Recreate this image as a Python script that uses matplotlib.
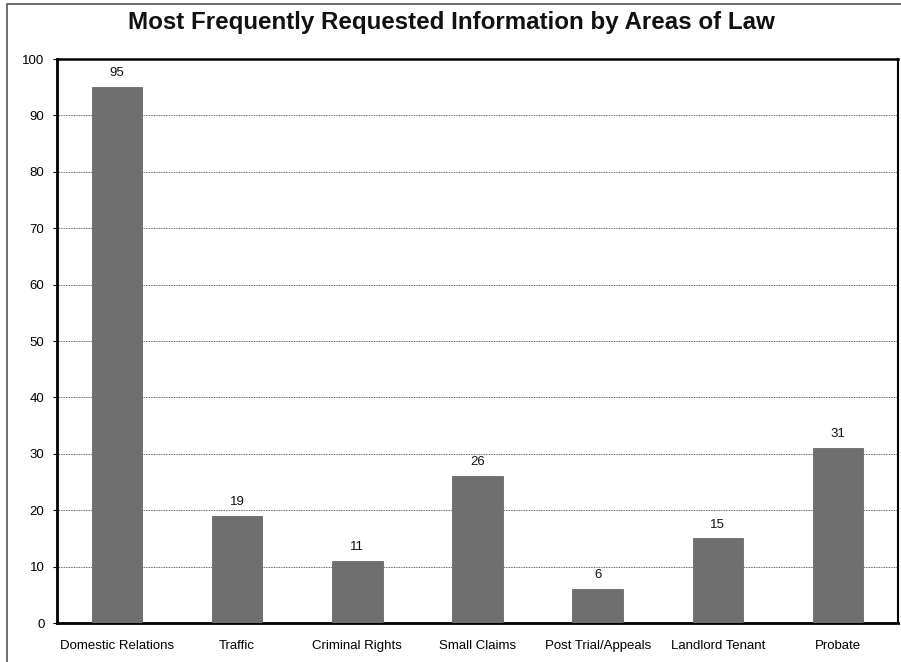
import matplotlib
matplotlib.use("Agg")
import matplotlib.pyplot as plt
from matplotlib.patches import Rectangle

categories = ["Domestic Relations", "Traffic", "Criminal Rights", "Small Claims",
              "Post Trial/Appeals", "Landlord Tenant", "Probate"]
values = [95, 19, 11, 26, 6, 15, 31]
y_ticks = [0, 10, 20, 30, 40, 50, 60, 70, 80, 90, 100]

plt.rcParams["font.family"] = ["Liberation Sans", "DejaVu Sans"]

fig = plt.figure(figsize=(9.01, 6.62), dpi=100)
fig.patch.set_facecolor("white")

# outer frame of the chart
fig.add_artist(Rectangle((7 / 901, -0.1), 1.2, (662 - 4) / 662 + 0.1,
                         transform=fig.transFigure, fill=False,
                         edgecolor="#555555", linewidth=1.2))

ax = fig.add_axes([57 / 901, 39 / 662, 841 / 901, 564 / 662])
x = range(len(categories))
bars = ax.bar(x, values, width=0.42, color="#6f6f6f", edgecolor="#5a5a5a",
              linewidth=0.5, zorder=3)
for xi, v in zip(x, values):
    ax.text(xi, v + 1.4, str(v), ha="center", va="bottom", fontsize=9.5, color="#111111")

ax.set_xlim(-0.5, len(categories) - 0.5)
ax.set_ylim(0, 100)
ax.set_yticks(y_ticks)
ax.set_xticks(list(x))
ax.set_xticklabels(categories, fontsize=9.5)
for lbl in ax.get_xticklabels():
    lbl.set_verticalalignment("baseline")
ax.tick_params(axis="y", labelsize=9.5, length=3, width=0.8, pad=6)
ax.tick_params(axis="x", length=0, pad=19)
ax.yaxis.grid(True, linestyle=(0, (1, 1)), color="#333333", linewidth=0.6, zorder=0)
for s in ax.spines.values():
    s.set_color("black")
ax.spines["left"].set_linewidth(2)
ax.spines["bottom"].set_linewidth(2)
ax.spines["top"].set_linewidth(1.8)
ax.spines["right"].set_linewidth(1.5)

fig.text(451 / 901, 1 - 23 / 662, "Most Frequently Requested Information by Areas of Law",
         ha="center", va="center", fontsize=17.4, fontweight="bold", color="#111111")

fig.savefig("out.png", dpi=100)
